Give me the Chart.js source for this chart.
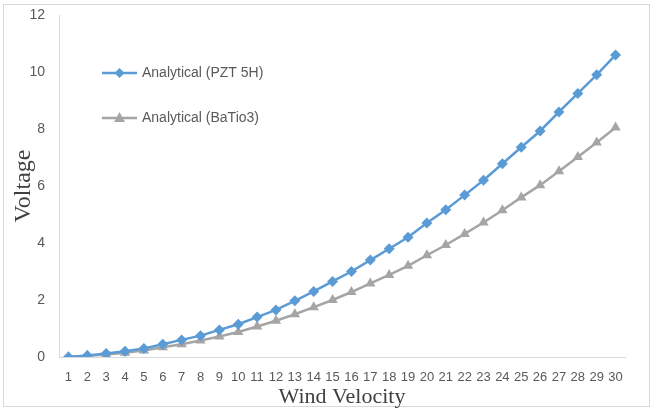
<!DOCTYPE html>
<html>
<head>
<meta charset="utf-8">
<script src="https://cdn.jsdelivr.net/npm/chart.js@4.4.1/dist/chart.umd.min.js"></script>
<style>
  html, body { margin: 0; padding: 0; background: #fff; }
  #wrap { position: relative; width: 654px; height: 410px; }
</style>
</head>
<body>
<div id="wrap"><canvas id="voltChart" width="654" height="410"></canvas></div>
<script>
// ── Data ─────────────────────────────────────────────────────
const windVelocity = [1,2,3,4,5,6,7,8,9,10,11,12,13,14,15,16,17,18,19,20,21,22,23,24,25,26,27,28,29,30];
const pzt5h   = [0.0,0.05,0.12,0.2,0.3,0.45,0.6,0.75,0.95,1.15,1.4,1.65,1.97,2.3,2.65,3.0,3.4,3.8,4.2,4.7,5.17,5.68,6.2,6.78,7.36,7.93,8.6,9.25,9.9,10.6];
const batio3  = [0.0,0.04,0.09,0.15,0.23,0.34,0.45,0.58,0.72,0.88,1.07,1.27,1.5,1.75,2.0,2.28,2.58,2.88,3.2,3.57,3.93,4.32,4.72,5.15,5.6,6.03,6.52,7.02,7.53,8.05];
const seriesNames = ['Analytical (PZT 5H)', 'Analytical (BaTio3)'];
const yTicks = [0, 2, 4, 6, 8, 10, 12];

const BLUE = '#5b9bd5';
const GREY = '#a5a5a5';
const TEXT = '#595959';

// ── Outer frame + in-plot legend ─────────────────────────────
const framePlugin = {
    id: 'frame',
    beforeDraw(chart) {
        const ctx = chart.ctx;
        ctx.save();
        ctx.strokeStyle = '#d9d9d9';
        ctx.lineWidth = 1;
        ctx.strokeRect(3.5, 4.5, 646, 402);
        ctx.restore();
    },
    afterDraw(chart) {
        const ctx = chart.ctx;
        const rows = [
            { name: seriesNames[0], color: BLUE, shape: 'diamond', y: 73 },
            { name: seriesNames[1], color: GREY, shape: 'triangle', y: 118 }
        ];
        ctx.save();
        rows.forEach(function (r) {
            ctx.strokeStyle = r.color;
            ctx.fillStyle = r.color;
            ctx.lineWidth = 2.5;
            ctx.beginPath();
            ctx.moveTo(102, r.y);
            ctx.lineTo(137, r.y);
            ctx.stroke();
            const cx = 119.5, cy = r.y;
            ctx.beginPath();
            if (r.shape === 'diamond') {
                ctx.moveTo(cx, cy - 5); ctx.lineTo(cx + 5, cy);
                ctx.lineTo(cx, cy + 5); ctx.lineTo(cx - 5, cy);
            } else {
                ctx.moveTo(cx, cy - 6); ctx.lineTo(cx + 5.5, cy + 4);
                ctx.lineTo(cx - 5.5, cy + 4);
            }
            ctx.closePath();
            ctx.fill();
            ctx.fillStyle = TEXT;
            ctx.font = '14px "Liberation Sans", Arial, sans-serif';
            ctx.textBaseline = 'middle';
            ctx.fillText(r.name, 142, r.y);
        });
        ctx.restore();
    }
};

const ctx = document.getElementById('voltChart').getContext('2d');
new Chart(ctx, {
    type: 'line',
    data: {
        labels: windVelocity,
        datasets: [{
            label: seriesNames[0],
            data: pzt5h,
            borderColor: BLUE,
            backgroundColor: BLUE,
            borderWidth: 2.5,
            pointStyle: 'rectRot',
            pointRadius: 5.5,
            pointBorderWidth: 0,
            tension: 0
        }, {
            label: seriesNames[1],
            data: batio3,
            borderColor: GREY,
            backgroundColor: GREY,
            borderWidth: 2.5,
            pointStyle: 'triangle',
            pointRadius: 6,
            pointBorderWidth: 0,
            tension: 0
        }]
    },
    options: {
        responsive: false,
        animation: false,
        layout: { padding: { left: 0, top: 15, right: 29, bottom: 0 } },
        plugins: {
            legend: { display: false },
            tooltip: { enabled: false }
        },
        scales: {
            x: {
                offset: true,
                grid: { display: true, drawOnChartArea: false, drawTicks: false },
                border: { display: true, color: '#d9d9d9', width: 1 },
                ticks: {
                    autoSkip: false, maxRotation: 0, minRotation: 0,
                    padding: 13, color: TEXT,
                    font: { family: '"Liberation Sans", Arial, sans-serif', size: 13 }
                },
                title: {
                    display: true, text: 'Wind Velocity', color: '#404040',
                    padding: { top: 0, bottom: 0 },
                    font: { family: '"Liberation Serif", "Times New Roman", serif', size: 22 }
                },
                afterFit(scale) {
                    scale.height = 53;
                    scale.paddingLeft = 0; scale.paddingRight = 0;
                }
            },
            y: {
                min: 0, max: 12,
                afterBuildTicks(scale) { scale.ticks = yTicks.map(v => ({ value: v })); },
                grid: { display: true, drawOnChartArea: false, drawTicks: false },
                border: { display: true, color: '#d9d9d9', width: 1 },
                ticks: {
                    padding: 14, color: TEXT,
                    font: { family: '"Liberation Sans", Arial, sans-serif', size: 14 }
                },
                title: {
                    display: true, text: 'Voltage', color: '#404040',
                    padding: { top: 9, bottom: 0 },
                    font: { family: '"Liberation Serif", "Times New Roman", serif', size: 24 }
                },
                afterFit(scale) {
                    scale.width = 59;
                    scale.paddingTop = 0; scale.paddingBottom = 0;
                }
            }
        }
    },
    plugins: [framePlugin]
});
</script>
</body>
</html>
